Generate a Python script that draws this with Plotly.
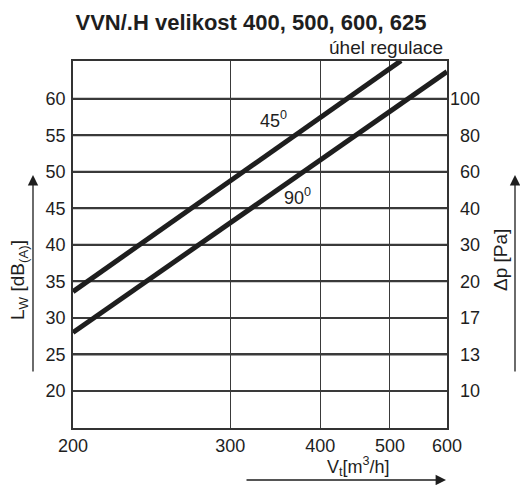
import numpy as np
import plotly.graph_objects as go

# ---- data ----
vt_tick_labels = ["200", "300", "400", "500", "600"]
vt_tick_values = [181.5, 300, 400, 500, 600]   # left edge of the chart is labelled 200
lw_ticks = [20, 25, 30, 35, 40, 45, 50, 55, 60]
dp_tick_labels = ["10", "13", "17", "20", "30", "40", "60", "80", "100"]

line45_x = [181.5, 518]
line45_y = [33.6, 65.2]
line90_x = [181.5, 600]
line90_y = [28.0, 63.7]

x_range = [181.5, 600]
y_range = [14.93, 65.16]

FONT = "Liberation Sans, Arial, sans-serif"
TXT = "#1e1e1e"
GRID = "#3a3a3a"

fig = go.Figure()

# horizontal grid lines at the Lw ticks, drawn in data space
gx, gy = [], []
for v in lw_ticks:
    gx += [x_range[0], x_range[1], None]
    gy += [v, v, None]
fig.add_trace(go.Scatter(x=gx, y=gy, mode="lines", line=dict(color=GRID, width=2),
                         showlegend=False, hoverinfo="skip"))

for xs, ys in [(line45_x, line45_y), (line90_x, line90_y)]:
    fig.add_trace(go.Scatter(x=xs, y=ys, mode="lines",
                             line=dict(color="#1e1e1e", width=5),
                             showlegend=False, hoverinfo="skip"))

# invisible trace on a narrow side subplot that carries the Δp labels
fig.add_trace(go.Scatter(x=[0.5], y=[y_range[0]], xaxis="x2", yaxis="y3",
                         mode="markers", marker=dict(opacity=0, color="white"),
                         showlegend=False, hoverinfo="skip"))

L, T, B, R = 73, 61, 428, 490
pw = R - L
ph = B - T
dom_x1 = (447 - L) / pw
side_x0 = (481 - L) / pw

fig.update_layout(
    width=520, height=485,
    margin=dict(l=L, r=520 - R, t=T, b=485 - B, autoexpand=False),
    paper_bgcolor="white", plot_bgcolor="rgba(0,0,0,0)",
    font=dict(family=FONT, size=18, color=TXT),
    hovermode=False,
    title=dict(text="<b>VVN/.H velikost 400, 500, 600, 625</b>",
               x=251 / 520, xanchor="center", xref="container",
               y=1 - 22 / 485, yanchor="middle", yref="container",
               font=dict(size=22, color=TXT, family=FONT)),
    xaxis=dict(type="log", domain=[0, dom_x1], anchor="y",
               range=[np.log10(x_range[0]), np.log10(x_range[1])],
               tickvals=vt_tick_values, ticktext=vt_tick_labels,
               showgrid=True, gridcolor=GRID, gridwidth=1,
               showline=True, linecolor="#333", linewidth=1.5, mirror=True,
               ticks="outside", ticklen=1, tickcolor="rgba(0,0,0,0)",
               zeroline=False, automargin=False,
               tickfont=dict(size=18, color=TXT)),
    yaxis=dict(range=y_range, tickmode="array", tickvals=lw_ticks, anchor="x",
               showgrid=True, gridcolor=GRID, gridwidth=2,
               showline=True, linecolor="#333", linewidth=1.5, mirror=True,
               ticks="outside", ticklen=2, tickcolor="rgba(0,0,0,0)",
               zeroline=False, automargin=False,
               tickfont=dict(size=18, color=TXT)),
    xaxis2=dict(domain=[side_x0, 1], anchor="y3", range=[0, 1], visible=False),
    yaxis3=dict(domain=[0, 1], anchor="x2", range=y_range, side="left",
                tickvals=lw_ticks, ticktext=dp_tick_labels, automargin=False,
                showgrid=False, showline=False, ticks="", zeroline=False,
                tickfont=dict(size=18, color=TXT)),
)

def px(xp):
    return (xp - L) / pw

def py(yp):
    return (B - yp) / ph

ann = []
ann.append(dict(x=np.log10(345), y=57.1, xref="x", yref="y",
                xanchor="center", yanchor="middle",
                text="45<sup>0</sup>", showarrow=False, font=dict(size=18, color=TXT)))
ann.append(dict(x=np.log10(372), y=46.6, xref="x", yref="y",
                xanchor="center", yanchor="middle",
                text="90<sup>0</sup>", showarrow=False, font=dict(size=18, color=TXT)))
ann.append(dict(x=px(445), y=py(47), xref="paper", yref="paper",
                xanchor="right", yanchor="middle",
                text="úhel regulace", showarrow=False, font=dict(size=19, color=TXT)))
ann.append(dict(x=px(19), y=py(280), xref="paper", yref="paper", textangle=-90,
                xanchor="center", yanchor="middle",
                text="L<sub>W</sub> [dB<sub>(A)</sub>]", showarrow=False,
                font=dict(size=19, color=TXT)))
ann.append(dict(x=px(500), y=py(260), xref="paper", yref="paper", textangle=-90,
                xanchor="center", yanchor="middle",
                text="Δp [Pa]", showarrow=False, font=dict(size=19, color=TXT)))
ann.append(dict(x=px(358), y=py(466), xref="paper", yref="paper",
                xanchor="center", yanchor="middle",
                text="V<sub>t</sub>[m<sup>3</sup>/h]", showarrow=False,
                font=dict(size=18, color=TXT)))
for (xt, yt, ax, ay) in [(33, 175, 0, 198), (515, 175, 0, 198), (446, 480, -201, 0)]:
    ann.append(dict(x=px(xt), y=py(yt), xref="paper", yref="paper", text="",
                    showarrow=True, ax=ax, ay=ay, axref="pixel", ayref="pixel",
                    arrowhead=2, arrowsize=1.6, arrowwidth=1.3, arrowcolor="#1e1e1e",
                    standoff=0))
fig.update_layout(annotations=ann)

# remove the browser's default 8px body margin so the figure fills the window exactly
fig.write_html("out.html", config={"displayModeBar": False},
               post_script="document.body.style.margin='0px';")
